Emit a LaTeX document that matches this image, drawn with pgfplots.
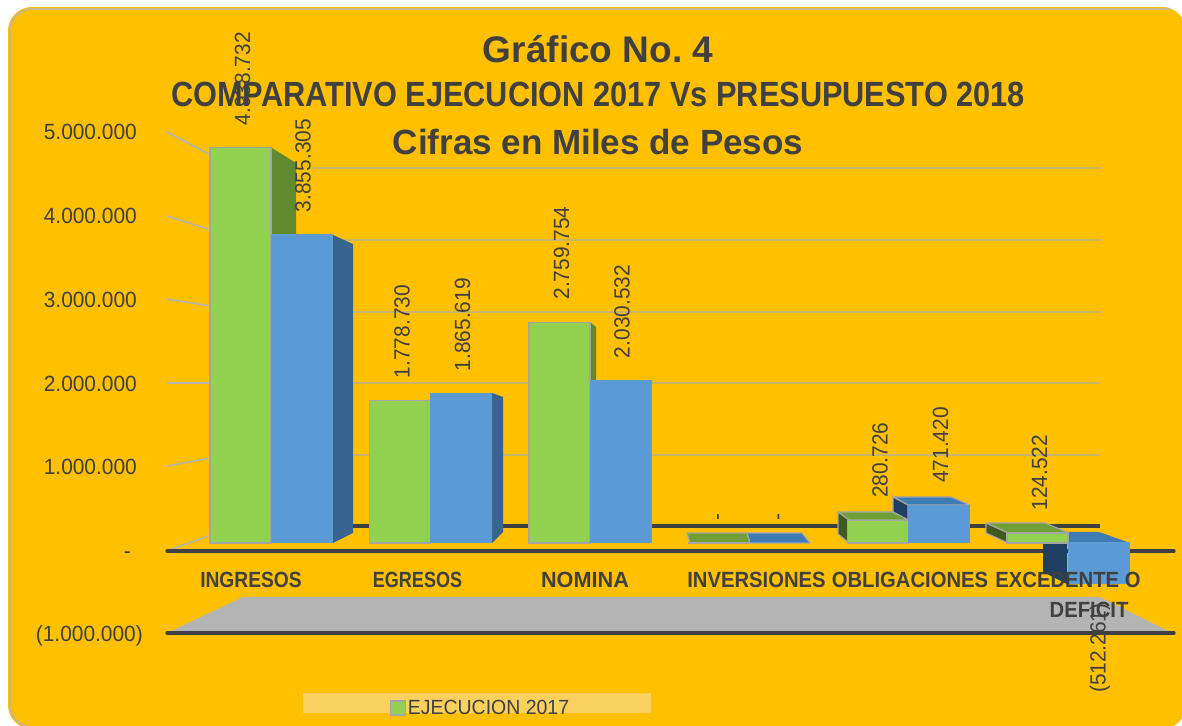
\documentclass[border=0pt]{standalone}
\usepackage{pgfplots}
\pgfplotsset{compat=1.18}
\usepackage{fontspec}
\setmainfont{Liberation Sans}
\newfontfamily\labelfont[FakeStretch=0.95]{Liberation Sans}
\newfontfamily\titlefont[FakeStretch=0.878]{Liberation Sans Bold}
\newfontfamily\catbold[FakeStretch=0.92]{Liberation Sans Bold}
\definecolor{panel}{HTML}{FFC000}
\definecolor{verde}{HTML}{92D050}
\definecolor{azul}{HTML}{5B9BD5}
\definecolor{verdeside}{HTML}{5F8A2E}
\definecolor{azulside}{HTML}{376590}
\definecolor{verdetop}{HTML}{70A035}
\definecolor{azultop}{HTML}{3E7CB5}
\definecolor{verdein}{HTML}{3E5A1E}
\definecolor{azulin}{HTML}{1F3F60}
\definecolor{borde}{HTML}{A5A5A5}
\definecolor{marco}{HTML}{C8B78A}
\definecolor{texto}{HTML}{404040}
\definecolor{piso}{HTML}{B4B4B4}
\definecolor{rejilla}{HTML}{C9B36B}
\definecolor{leyenda}{HTML}{FAD05F}

\pgfplotstableread{
x v lab
271    4938732 4.938.732
430.5  1778730 1.778.730
590    2759754 2.759.754
749    0       -
908.5  280726  280.726
1068   124522  124.522
}\ejecucion
\pgfplotstableread{
x v lab
271    3855305 3.855.305
430.5  1865619 1.865.619
590    2030532 2.030.532
749    0       -
908.5  471420  471.420
}\presupuesto

\begin{document}
\begin{tikzpicture}
\begin{axis}[
  name=ax,
  scale only axis, width=1182pt, height=725pt,
  xmin=0, xmax=1182, ymin=-2275000, ymax=6787500,
  axis on top, scaled y ticks=false,
  axis line style={draw=none}, tick style={draw=none},
  axis background/.style={fill=white},
  ybar, bar width=61,
  % x in picture units, ticks sit on the front plane of the 3d chart
  xtick={251,417.5,585,756.5,910,1068},
  xticklabels={\scalebox{0.95}[1]{INGRESOS},\scalebox{0.89}[1]{EGRESOS},\scalebox{1.07}[1]{NOMINA},INVERSIONES,OBLIGACIONES,{EXCEDENTE O\\\hspace*{42pt}DEFICIT}},
  x tick label style={font=\catbold\fontsize{22}{30}\selectfont,text=texto,align=center,yshift=157pt,anchor=north,inner sep=0pt},
  ytick={-1162500,-150000,950000,1993750,3037500,4087500,5137500},
  yticklabels={(1.000.000)\kern-6pt,-\kern6pt,1.000.000,2.000.000,3.000.000,4.000.000,5.000.000},
  y tick label style={font=\labelfont\fontsize{22}{22}\selectfont,text=texto,anchor=east,xshift=137pt,inner sep=0pt},
  title={\fontsize{37}{45.5}\selectfont\bfseries Gráfico No.\ 4\\[18.5pt]
         \titlefont\fontsize{35}{45.5}\selectfont COMPARATIVO EJECUCION 2017 Vs PRESUPUESTO 2018\\[20.5pt]
         \fontsize{35}{45.5}\selectfont\bfseries Cifras en Miles de Pesos},
  title style={at={(axis description cs:0.506,0.8607)},anchor=center,align=center,text=texto,inner sep=0pt},
  px/.style={forget plot,sharp plot,y filter/.expression={(543-y)*12500}},
  face/.style={px,draw=borde,line width=1.2pt,line join=round},
  line/.style={px,draw=#1,no marks},
  every node near coord/.style={rotate=90,anchor=west,font=\labelfont\fontsize{22}{22}\selectfont,text=texto,inner sep=0pt,shift={(22pt,0pt)}},
  legend style={at={(axis cs:390,-2060000)},anchor=west,draw=none,fill=none,inner sep=0pt,outer sep=0pt,
    font=\labelfont\fontsize{20.5}{20.5}\selectfont,text=texto,/tikz/every even column/.append style={column sep=9pt}},
  legend image code/.code={\draw[fill=verde,draw=borde,line width=1.4pt] (0pt,-7pt) rectangle (14.5pt,7pt);},
]
% panel
\addplot[px,fill=panel,draw=none,rounded corners=24pt] coordinates {(8,7)(1186,7)(1186,729)(8,729)} -- cycle;
\addplot[px,draw=marco,line width=2pt,rounded corners=22pt] coordinates {(1170,9)(10,9)(10,727)(40,727)};
% legend band
\addplot[px,fill=leyenda,draw=none] coordinates {(303,693)(651,693)(651,713)(303,713)} -- cycle;
% floor, walls, gridlines
\addplot[px,fill=piso,draw=none] coordinates {(243,597)(1100,597)(1172,633)(167,633)} -- cycle;
\addplot[line=rejilla,line width=2.2pt] coordinates {(312,168)(1100,168)};
\addplot[line=rejilla,line width=2.2pt] coordinates {(340,240)(1100,240)};
\addplot[line=rejilla,line width=2.2pt] coordinates {(340,312)(1100,312)};
\addplot[line=rejilla,line width=2.2pt] coordinates {(340,383)(1100,383)};
\addplot[line=rejilla,line width=2.2pt] coordinates {(340,455)(1100,455)};
\addplot[line=texto,line width=3.2pt] coordinates {(340,526)(1100,526)};
\addplot[line=piso,line width=1.6pt] coordinates {(167,132)(211,155)};
\addplot[line=piso,line width=1.6pt] coordinates {(167,216)(211,230)};
\addplot[line=piso,line width=1.6pt] coordinates {(167,299)(211,306)};
\addplot[line=piso,line width=1.6pt] coordinates {(167,383)(211,383)};
\addplot[line=piso,line width=1.6pt] coordinates {(167,466)(211,458)};
\addplot[line=piso,line width=1.6pt] coordinates {(167,551)(211,535)};
\addplot[line=texto,line width=3.2pt,line cap=round] coordinates {(167,551)(1174,551)};
\addplot[line=texto,line width=3.2pt,line cap=round] coordinates {(167,633)(1174,633)};
% 3d side faces behind the front faces
\addplot[px,fill=verdeside,draw=none] coordinates {(272,148)(296,163)(296,240)(272,240)} -- cycle;
\addplot[px,fill=azulside,draw=none] coordinates {(333,235)(353,244)(353,533)(333,543)} -- cycle;
\addplot[px,fill=azulside,draw=none] coordinates {(492,393)(503,397)(503,532)(492,543)} -- cycle;
\addplot[px,fill=verdeside,draw=none] coordinates {(590,322)(596,327)(596,380)(590,380)} -- cycle;
\addplot[face,fill=verdetop] coordinates {(690,543)(687,533)(747,533)(750,543)} -- cycle;
\addplot[face,fill=azultop] coordinates {(750,543)(747,533)(802,533)(810,543)} -- cycle;
\addplot[face,fill=azultop] coordinates {(893,497)(951,497)(970,505)(908,505)} -- cycle;
\addplot[face,fill=azulin] coordinates {(893,497)(908,505)(908,520)(893,512)} -- cycle;
\addplot[face,fill=verdetop] coordinates {(838,512)(893,512)(908,520)(849,520)} -- cycle;
\addplot[face,fill=verdein] coordinates {(838,512)(849,520)(849,543)(838,534)} -- cycle;
\addplot[px,fill=azultop,draw=none] coordinates {(1053,532)(1099,532)(1130,543)(1069,543)} -- cycle;
\addplot[px,fill=azulin,draw=none] coordinates {(1043,543)(1067,543)(1067,584)(1043,572)} -- cycle;
\addplot[face,fill=verdetop] coordinates {(986,523)(1045,523)(1069,533)(1008,533)} -- cycle;
\addplot[face,fill=verdein] coordinates {(986,523)(1008,533)(1008,543)(986,533)} -- cycle;
% front faces, from the values
\addplot[fill=verde,draw=borde,line width=1.2pt,bar shift=-30.5pt,
  nodes near coords,point meta=explicit symbolic,
  every node near coord/.append style={shift={(0pt,28.5pt)}}]
  table[x=x,y=v,meta=lab] {\ejecucion};
\addlegendentry{EJECUCION 2017}
\addplot[forget plot,fill=azul,draw=azul!90!borde,line width=1pt,bar shift=30.5pt,
  nodes near coords,point meta=explicit symbolic,
  every node near coord/.append style={shift={(0pt,-32pt)}}]
  table[x=x,y=v,meta=lab] {\presupuesto};
\addplot[forget plot,fill=azul,draw=azul!90!borde,line width=1pt,bar shift=30.5pt,
  nodes near coords,point meta=explicit symbolic,
  every node near coord/.append style={anchor=east,shift={(-41pt,-32pt)}}]
  coordinates {(1068,-512261)[(512.261)]};
\end{axis}
\pgfresetboundingbox
\path (ax.south west) rectangle (ax.north east);
\end{tikzpicture}
\end{document}
